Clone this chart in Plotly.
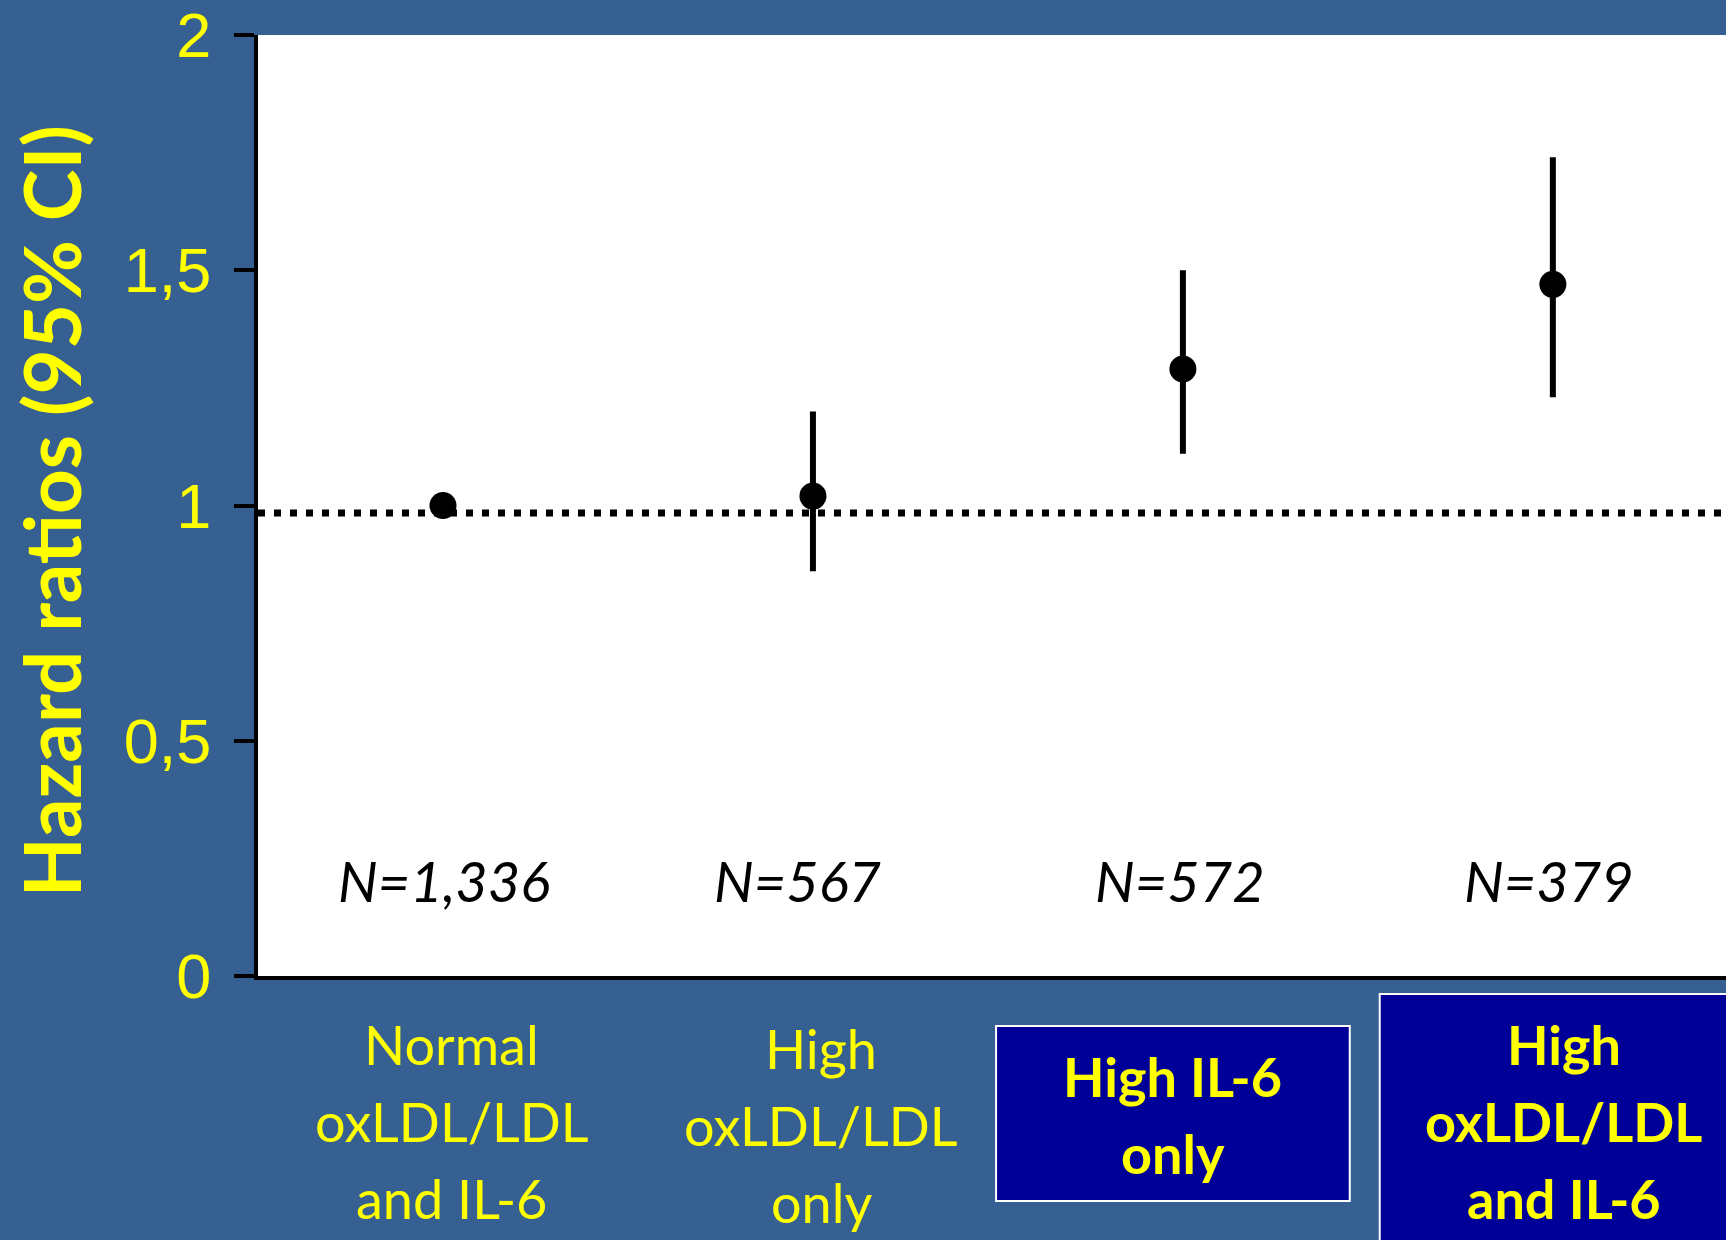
import plotly.graph_objects as go

# ---- data ----
groups = [["Normal", "oxLDL/LDL", "and IL-6"],
          ["High", "oxLDL/LDL", "only"],
          ["High IL-6", "only"],
          ["High", "oxLDL/LDL", "and IL-6"]]
group_bold = [False, False, True, True]
n_labels = ["N=1,336", "N=567", "N=572", "N=379"]
hazard_ratio = [1.00, 1.02, 1.29, 1.47]
ci_low = [1.00, 0.86, 1.11, 1.23]
ci_high = [1.00, 1.20, 1.50, 1.74]
ref_line = 0.984
y_tickvals = [0, 0.5, 1, 1.5, 2]
y_ticktext = ["0", "0,5", "1", "1,5", "2"]

BG = "#376092"
YEL = "#FFFF00"

xs = list(range(len(groups)))
err_plus = [hi - h for h, hi in zip(hazard_ratio, ci_high)]
err_minus = [h - lo for h, lo in zip(hazard_ratio, ci_low)]

fig = go.Figure()
fig.add_trace(go.Scatter(
    x=xs, y=hazard_ratio, mode="markers",
    marker=dict(color="black", size=27),
    error_y=dict(type="data", array=err_plus, arrayminus=err_minus,
                 color="black", thickness=6, width=0),
    showlegend=False, hoverinfo="skip"))

# reference dotted line
fig.add_shape(type="line", xref="paper", yref="y", x0=0, x1=1, y0=ref_line, y1=ref_line,
              line=dict(color="black", width=7, dash="7px,9px"), layer="below")

# boxes behind highlighted category labels
fig.add_shape(type="rect", xref="x", yref="paper", x0=1.495, x1=2.451, y0=-0.2391, y1=-0.0531,
              fillcolor="#000099", line=dict(color="white", width=2))
fig.add_shape(type="rect", xref="x", yref="paper", x0=2.532, x1=3.6, y0=-0.35, y1=-0.0191,
              fillcolor="#000099", line=dict(color="white", width=2))

# N labels
n_shift = [0.003, -0.043, -0.008, -0.011]
for i, t in enumerate(n_labels):
    fig.add_annotation(x=xs[i] + n_shift[i], y=0.203, xref="x", yref="y", text="<i>" + t + "</i>",
                       showarrow=False, font=dict(family="Lato", size=56, color="black"),
                       xanchor="center", yanchor="middle")

# category labels (one annotation per line for exact line spacing)
cat_x = [0.024, 1.022, 1.973, 3.03]
cat_center_px = [1121, 1125, 1115, 1121]   # vertical centre of each label block (px from top)
line_gap = 77
plot_bottom, plot_h = 976, 941
for i, lines in enumerate(groups):
    n = len(lines)
    for k, ln in enumerate(lines):
        py = cat_center_px[i] + (k - (n - 1) / 2) * line_gap
        txt = "<b>" + ln + "</b>" if group_bold[i] else ln
        fig.add_annotation(x=cat_x[i], y=(plot_bottom - py) / plot_h, xref="x", yref="paper",
                           text=txt, showarrow=False,
                           font=dict(family="Lato", size=54, color=YEL),
                           xanchor="center", yanchor="middle", align="center")

# y-axis title
fig.add_annotation(x=-0.141, y=0.494, xref="paper", yref="paper",
                   text="<b>Hazard ratios (95% CI)</b>", textangle=-90, showarrow=False,
                   font=dict(family="Lato", size=78, color=YEL),
                   xanchor="center", yanchor="middle")

fig.update_xaxes(range=[-0.5, 3.468], showticklabels=False, showgrid=False, zeroline=False,
                 showline=True, linecolor="black", linewidth=4, ticks="")
fig.update_yaxes(range=[0, 2], tickvals=y_tickvals, ticktext=y_ticktext, showgrid=False,
                 zeroline=False, showline=True, linecolor="black", linewidth=4,
                 ticks="outside", ticklen=20, tickwidth=4, tickcolor="black",
                 tickfont=dict(family="Liberation Sans", size=63, color=YEL),
                 ticklabelstandoff=10)

fig.update_layout(width=1726, height=1240, margin=dict(l=258, r=0, t=35, b=264),
                  paper_bgcolor=BG, plot_bgcolor="white", showlegend=False)

fig.write_html("out.html", include_plotlyjs=True, full_html=True,
               config={"displayModeBar": False})
